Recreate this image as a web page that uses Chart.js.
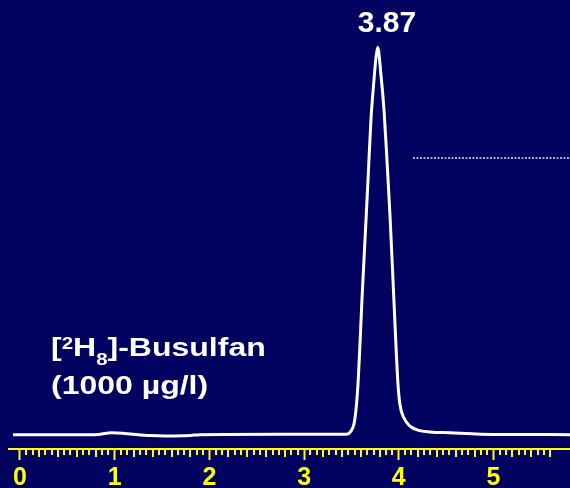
<!DOCTYPE html>
<html>
<head>
<meta charset="utf-8">
<script src="https://cdn.jsdelivr.net/npm/chart.js@4"></script>
<style>
  body { margin: 0; background: #01015f; }
  #wrap { width: 570px; height: 488px; }
</style>
</head>
<body>
<div id="wrap"><canvas id="chromChart"></canvas></div>
<script>
// retention time (min) and detector signal
const retentionTimes = [-0.074, 0.42, 0.79, 0.97, 1.11, 1.37, 1.53, 1.80, 1.90, 2.75, 3.453, 3.495, 3.527, 3.548, 3.569, 3.590, 3.611, 3.643, 3.675, 3.706, 3.738, 3.759, 3.777, 3.812, 3.844, 3.875, 3.907, 3.939, 3.970, 3.992, 4.013, 4.055, 4.118, 4.203, 4.33, 4.54, 4.86, 5.81];
const intensity = [0.0, 0.0, 0.0, 0.4, 0.25, -0.2, -0.3, -0.2, 0.0, 0.1, 0.1, 0.8, 2.4, 5.5, 11.1, 20.0, 30.0, 43.3, 56.7, 70.1, 79.0, 83.9, 86.3, 80.1, 72.3, 61.2, 48.9, 34.4, 19.9, 11.1, 6.6, 3.7, 1.9, 1.0, 0.6, 0.4, 0.1, 0.0];
const thresholdX = [4.15, 5.81];
const thresholdY = [61.6, 61.6];
const tickLabels = ["0", "1", "2", "3", "4", "5"];
const majorTicks = [0, 1, 2, 3, 4, 5];
const peakLabel = "3.87";

const YELLOW = "#ffff00";

const bgPlugin = {
  id: "bg",
  beforeDraw(chart) {
    const ctx = chart.ctx;
    ctx.save();
    ctx.fillStyle = "#01015f";
    ctx.fillRect(0, 0, chart.width, chart.height);
    ctx.restore();
  }
};

// small ticks every 1/15 min, medium every 0.2
const minorTicks = {
  id: "minorTicks",
  afterDraw(chart) {
    const ctx = chart.ctx;
    const xs = chart.scales.x;
    const top = chart.chartArea.bottom;
    ctx.save();
    ctx.strokeStyle = YELLOW;
    ctx.lineWidth = 2;
    for (let i = 1; i <= 84; i++) {
      if (i % 15 === 0) continue;
      const px = Math.round(xs.getPixelForValue(i / 15));
      const len = i % 3 === 0 ? 8 : 6;
      ctx.beginPath();
      ctx.moveTo(px, top);
      ctx.lineTo(px, top + len);
      ctx.stroke();
    }
    ctx.restore();
  }
};

const labels = {
  id: "labels",
  afterDraw(chart) {
    const ctx = chart.ctx;
    ctx.save();
    ctx.fillStyle = "#ffffff";
    ctx.textBaseline = "alphabetic";
    ctx.font = 'bold 30px "Liberation Sans", Arial, sans-serif';
    ctx.textAlign = "center";
    ctx.fillText(peakLabel, 387, 32);

    ctx.textAlign = "left";
    ctx.translate(51, 0);
    ctx.scale(1.28, 1);
    const big = 'bold 25px "Liberation Sans", Arial, sans-serif';
    const small = 'bold 16px "Liberation Sans", Arial, sans-serif';
    const parts = [
      ["[", big, 356], ["2", small, 349], ["H", big, 356], ["8", small, 365], ["]-Busulfan", big, 356]
    ];
    let x = 0;
    for (const [t, f, y] of parts) {
      ctx.font = f;
      ctx.fillText(t, x, y);
      x += ctx.measureText(t).width;
    }
    ctx.font = big;
    ctx.fillText("(1000 \u00b5g/l)", 0, 394);
    ctx.restore();
  }
};

const ctx = document.getElementById("chromChart").getContext("2d");
new Chart(ctx, {
  type: "line",
  data: {
    datasets: [
      {
        data: retentionTimes.map((t, i) => ({ x: t, y: intensity[i] })),
        borderColor: "#ffffff",
        borderWidth: 3,
        pointRadius: 0,
        cubicInterpolationMode: "monotone",
        fill: false
      },
      {
        data: thresholdX.map((t, i) => ({ x: t, y: thresholdY[i] })),
        borderColor: "#e6e6f0",
        borderWidth: 1.5,
        borderDash: [2, 1.5],
        pointRadius: 0,
        fill: false
      }
    ]
  },
  options: {
    responsive: true,
    maintainAspectRatio: false,
    animation: false,
    layout: { padding: { left: 9, right: 0, top: 0, bottom: 0 } },
    plugins: {
      legend: { display: false },
      tooltip: { enabled: false }
    },
    scales: {
      x: {
        type: "linear",
        min: -0.116,
        max: 5.808,
        afterBuildTicks(scale) {
          scale.ticks = majorTicks.map(v => ({ value: v }));
        },
        afterFit(scale) {
          scale.height = 39;
        },
        ticks: {
          color: YELLOW,
          padding: 3,
          maxRotation: 0,
          autoSkip: false,
          font: { family: '"Liberation Sans", Arial, sans-serif', size: 25, weight: "bold" },
          callback: (v, i) => tickLabels[i]
        },
        grid: {
          drawOnChartArea: false,
          drawTicks: true,
          tickLength: 11,
          tickColor: YELLOW,
          tickWidth: 2,
          color: YELLOW
        },
        border: { color: YELLOW, width: 2 }
      },
      y: {
        display: false,
        min: -3.2,
        max: 96.8
      }
    }
  },
  plugins: [bgPlugin, minorTicks, labels]
});
</script>
</body>
</html>
